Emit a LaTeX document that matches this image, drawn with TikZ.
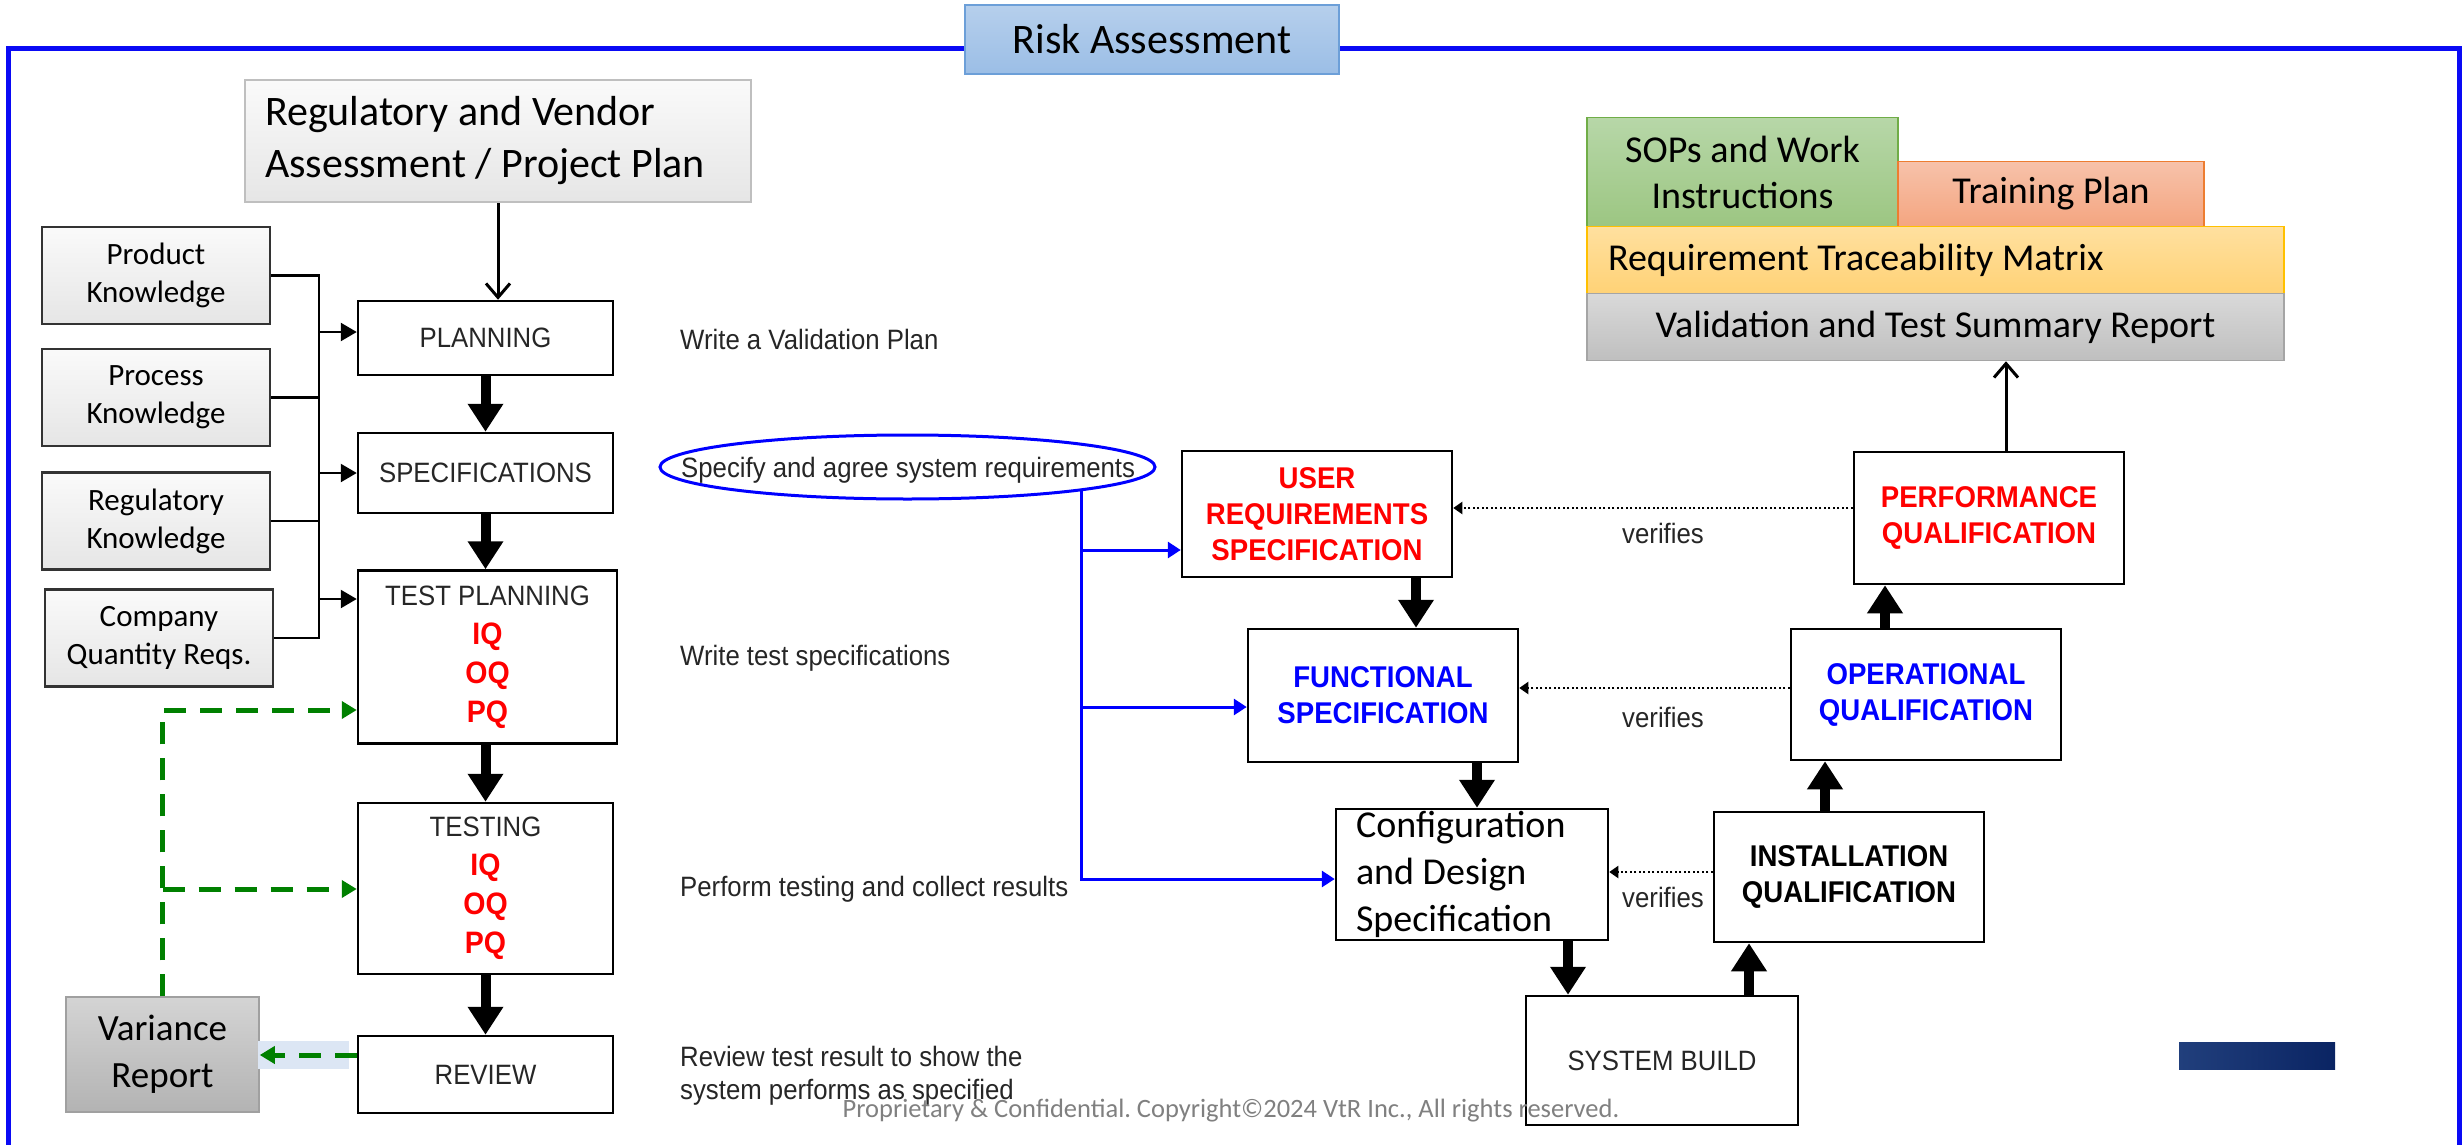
\documentclass[tikz,border=0pt]{standalone}
\usepackage{fontspec}
\setmainfont{Carlito}
\newfontfamily\narrowfont[FakeStretch=0.92]{Liberation Sans}
\usetikzlibrary{arrows.meta,shapes.geometric,calc}
\newcommand\myfs[2]{\fontsize{#1}{#2}\selectfont}
\frenchspacing
\definecolor{pureblue}{HTML}{0000FF}
\definecolor{frameblue}{HTML}{0A0AF5}
\definecolor{gr}{HTML}{008000}
\definecolor{riskA}{HTML}{B6CFEC}\definecolor{riskB}{HTML}{9BBEE6}\definecolor{riskD}{HTML}{6C9FD8}
\definecolor{sopA}{HTML}{B7D7A8}\definecolor{sopB}{HTML}{9CC682}\definecolor{sopD}{HTML}{70AD47}
\definecolor{trA}{HTML}{F7C2AA}\definecolor{trB}{HTML}{F4A580}\definecolor{trD}{HTML}{ED7D31}
\definecolor{rtmA}{HTML}{FFE09F}\definecolor{rtmB}{HTML}{FFD276}\definecolor{rtmD}{HTML}{FFC000}
\definecolor{vtA}{HTML}{D9D9D9}\definecolor{vtB}{HTML}{BFBFBF}\definecolor{vtD}{HTML}{A5A5A5}
\definecolor{varA}{HTML}{D4D4D4}\definecolor{varB}{HTML}{B3B3B3}\definecolor{varD}{HTML}{A0A0A0}
\definecolor{hlblue}{HTML}{DCE6F4}
\definecolor{navyA}{HTML}{213F7C}\definecolor{navyB}{HTML}{0A2463}
\definecolor{txt}{HTML}{262626}
\begin{document}
\begin{tikzpicture}[x=1pt,y=-1pt,
  riskbox/.style={draw=riskD,line width=1.5pt,top color=riskA,bottom color=riskB,font=\myfs{42}{50},inner sep=0pt,minimum width=374pt,minimum height=69pt},
  regbox/.style={draw=black!25,line width=2pt,top color=black!2,bottom color=black!10,font=\myfs{42}{52},align=left,text width=466pt,inner xsep=20pt,inner ysep=0pt,minimum height=122pt},
  kbox/.style={draw=black!80,line width=2.5pt,top color=black!2,bottom color=black!10,font=\myfs{31}{38},align=center,inner sep=0pt,minimum width=228pt,minimum height=97pt},
  pbox/.style={draw=black,line width=2.5pt,fill=white,font=\narrowfont\myfs{28}{39},text=txt,align=center,inner sep=0pt,minimum width=255pt},
  vbox/.style={draw=black,line width=2.5pt,fill=white,font=\narrowfont\bfseries\myfs{30}{36},align=center,inner sep=0pt,minimum width=270pt},
  cdsbox/.style={draw=black,line width=2.5pt,fill=white,font=\myfs{38}{47},align=left,text width=232pt,inner xsep=20pt,inner ysep=0pt,minimum height=131pt},
  note/.style={font=\narrowfont\myfs{28}{33},text=txt,anchor=west,inner sep=0pt,align=left},
  sopbox/.style={draw=sopD,line width=1.5pt,top color=sopA,bottom color=sopB,font=\myfs{38}{46},align=center,inner sep=0pt,minimum width=311pt,minimum height=109pt},
  trbox/.style={draw=trD,line width=1.5pt,top color=trA,bottom color=trB,font=\myfs{38}{46},inner sep=0pt,minimum width=306pt,minimum height=65pt},
  rtmbox/.style={draw=rtmD,line width=1.5pt,top color=rtmA,bottom color=rtmB,font=\myfs{38}{46},align=left,text width=655pt,inner xsep=21pt,inner ysep=0pt,minimum height=67pt},
  vtbox/.style={draw=vtD,line width=1.5pt,top color=vtA,bottom color=vtB,font=\myfs{38}{46},inner sep=0pt,minimum width=697pt,minimum height=67pt},
  varbox/.style={draw=varD,line width=1.5pt,top color=varA,bottom color=varB,font=\myfs{37}{47},align=center,inner sep=0pt,minimum width=193pt,minimum height=115pt},
  thickarr/.style={line width=10pt,-{Triangle[length=28pt,width=34pt]}},
  thinarr/.style={line width=3pt,-{Straight Barb[length=14pt,width=24pt]}},
  brline/.style={line width=2.5pt},
  brarr/.style={line width=2.5pt,-{Triangle[length=16pt,width=18pt]}},
  bluearr/.style={line width=3pt,draw=pureblue,-{Triangle[length=13pt,width=16pt]}},
  greenarr/.style={line width=5pt,draw=gr,dash pattern=on 22pt off 14pt,-{Triangle[length=15pt,width=17pt,fill=gr]}},
  dotarr/.style={line width=2pt,dash pattern=on 2pt off 2.5pt,-{Triangle[length=9pt,width=12pt]}},
  vlabel/.style={font=\narrowfont\myfs{28}{33},text=txt,inner sep=0pt}
]
\useasboundingbox[fill=white] (0,0) rectangle (2464,1145);

% frame
\draw[frameblue,line width=5pt] (8,1150) -- (8,49) -- (2459,49) -- (2459,1150);
\node[riskbox] (risk) at (1152,39.5) {Risk Assessment};

% top left
\node[regbox] (reg) at (498,141) {\spaceskip=0pt\xspaceskip=0pt\relax Regulatory and Vendor\\Assessment / Project Plan};

% knowledge boxes
\node[kbox] (prod) at (156,275.5) {Product\\Knowledge};
\node[kbox] (proc) at (156,397.5) {Process\\Knowledge};
\node[kbox] (regk) at (156,521) {Regulatory\\Knowledge};
\node[kbox] (comp) at (159,638) {Company\\Quantity Reqs.};

% process column
\node[pbox,minimum height=74pt] (plan) at (485.5,338) {PLANNING};
\node[pbox,minimum height=80pt] (spec) at (485.5,473) {SPECIFICATIONS};
\node[pbox,minimum width=259pt,minimum height=173pt] (tp) at (487.5,657)
  {TEST PLANNING\\{\color{red}\bfseries\myfs{31}{39}IQ}\\{\color{red}\bfseries\myfs{31}{39}OQ}\\{\color{red}\bfseries\myfs{31}{39}PQ}};
\node[pbox,minimum height=171pt] (test) at (485.5,888.5)
  {TESTING\\{\color{red}\bfseries\myfs{31}{39}IQ}\\{\color{red}\bfseries\myfs{31}{39}OQ}\\{\color{red}\bfseries\myfs{31}{39}PQ}};
\node[pbox,minimum height=77pt] (rev) at (485.5,1074.5) {REVIEW};

% bracket
\coordinate (br) at (319,0);
\coordinate (brA) at (319,332);
\coordinate (brB) at (319,473);
\coordinate (brC) at (319,599);
\draw[brline] (prod.east) -- (prod.east -| br) -- (comp.east -| br) -- (comp.east);
\draw[brline] (proc.east) -- (proc.east -| br);
\draw[brline] (regk.east) -- (regk.east -| br);
\draw[brarr] (brA) -- (brA -| plan.west);
\draw[brarr] (brB) -- (brB -| spec.west);
\draw[brarr] (brC) -- (brC -| tp.west);

% column arrows
\draw[thinarr] (reg.south) -- (reg.south |- plan.north);
\draw[thickarr] (plan.south) -- (spec.north);
\draw[thickarr] (spec.south) -- (spec.south |- tp.north);
\draw[thickarr] (test.north |- tp.south) -- (test.north);
\draw[thickarr] (test.south) -- (rev.north);

% variance
\node[varbox] (var) at (162.5,1054.5) {Variance\\Report};
\node[fill=hlblue,minimum width=91pt,minimum height=28pt,inner sep=0pt] (hl) at (303.5,1055) {};
\draw[greenarr] (rev.west |- hl) -- (var.east |- hl);
\coordinate (g1) at (0,710);
\coordinate (g2) at (0,889);
\draw[greenarr] (var.north) -- (var.north |- g1) -- (g1 -| tp.west);
\draw[greenarr] (var.north |- g2) -- (g2 -| test.west);

% notes
\node[note] (n1) at (680,339) {Write a Validation Plan};
\node[note] (n2) at (681,470) {Specify and agree system requirements};
\node[draw=pureblue,line width=3pt,ellipse,minimum width=495pt,minimum height=64pt,inner sep=0pt] (ell) at (907.5,467) {};
\node[note] (n3) at (680,658) {Write test specifications};
\node[note] (n4) at (680,889) {Perform testing and collect results};
\node[note] (n5) at (680,1075.5) {Review test result to show the\\system performs as specified};

% V model
\node[vbox,text=red,minimum height=126pt] (urs) at (1317,514) {USER\\REQUIREMENTS\\SPECIFICATION};
\node[vbox,text=pureblue,minimum height=133pt] (fs) at (1383,695.5) {FUNCTIONAL\\SPECIFICATION};
\node[cdsbox] (cds) at (1472,874.5) {\spaceskip=0pt\xspaceskip=0pt\relax Configuration\\and Design\\Specification};
\node[vbox,font=\narrowfont\myfs{28}{36},text=txt,minimum width=272pt,minimum height=129pt] (sb) at (1662,1060.5) {SYSTEM BUILD};
\node[vbox,minimum height=130pt] (iq) at (1849,877) {INSTALLATION\\QUALIFICATION};
\node[vbox,text=pureblue,minimum height=131pt] (oq) at (1926,694.5) {OPERATIONAL\\QUALIFICATION};
\node[vbox,text=red,minimum height=132pt] (pq) at (1989,518) {PERFORMANCE\\QUALIFICATION};

% blue connectors
\coordinate (bt) at (1081,490);
\coordinate (b1) at (1081,550);
\coordinate (b2) at (1081,707);
\coordinate (b3) at (1081,879);
\draw[bluearr] (bt) -- (b3) -- (b3 -| cds.west);
\draw[bluearr] (b1) -- (b1 -| urs.west);
\draw[bluearr] (b2) -- (b2 -| fs.west);

% V arrows
\coordinate (x1) at (1416,0);
\coordinate (x2) at (1477,0);
\coordinate (x3) at (1568,0);
\coordinate (x4) at (1749,0);
\coordinate (x5) at (1825,0);
\coordinate (x6) at (1885,0);
\coordinate (x7) at (2006,0);
\draw[thickarr] (urs.south -| x1) -- (fs.north -| x1);
\draw[thickarr] (fs.south -| x2) -- (cds.north -| x2);
\draw[thickarr] (cds.south -| x3) -- (sb.north -| x3);
\draw[thickarr] (sb.north -| x4) -- (iq.south -| x4);
\draw[thickarr] (iq.north -| x5) -- (oq.south -| x5);
\draw[thickarr] (oq.north -| x6) -- (pq.south -| x6);

% verifies
\coordinate (d1) at (0,508);
\coordinate (d2) at (0,688);
\coordinate (d3) at (0,872);
\draw[dotarr] (pq.west |- d1) -- (urs.east |- d1);
\draw[dotarr] (oq.west |- d2) -- (fs.east |- d2);
\draw[dotarr] (iq.west |- d3) -- (cds.east |- d3);
\node[vlabel] (v1) at (1663,533) {verifies};
\node[vlabel] (v2) at (1663,717) {verifies};
\node[vlabel] (v3) at (1663,897) {verifies};

% top right stack
\node[sopbox] (sop) at (1742.5,172) {SOPs and Work\\Instructions};
\node[trbox] (tr) at (2051,194) {Training Plan};
\node[rtmbox] (rtm) at (1935.5,260) {\spaceskip=0pt\xspaceskip=0pt\relax Requirement Traceability Matrix};
\node[vtbox] (vt) at (1935.5,327) {Validation and Test Summary Report};
\draw[thinarr] (pq.north -| x7) -- (vt.south -| x7);

% navy bar
\node[left color=navyA,right color=navyB,minimum width=156pt,minimum height=27pt,inner sep=0pt] (navy) at (2257,1055.5) {};

% copyright
\node[font=\myfs{26.5}{30},text=black!50,inner sep=0pt] (copy) at (1231,1111) {Proprietary \& Confidential. Copyright©2024 VtR Inc., All rights reserved.};
\end{tikzpicture}
\end{document}
